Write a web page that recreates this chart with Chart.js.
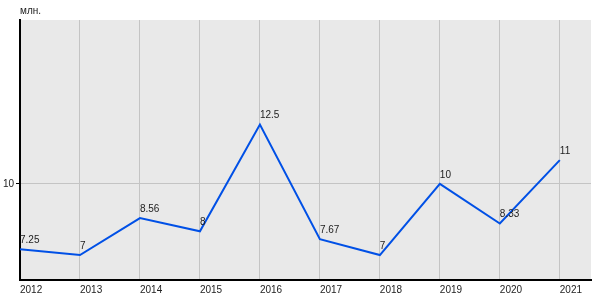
<!DOCTYPE html>
<html lang="ru">
<head>
  <meta charset="UTF-8">
  <title>млн.</title>
  <script src="https://cdn.jsdelivr.net/npm/chart.js"></script>
  <style>
    body { margin: 0; background: #fff; }
    #wrap { width: 600px; height: 300px; }
  </style>
</head>
<body>
<div id="wrap"><canvas id="chart"></canvas></div>
<script>
const years = [2012, 2013, 2014, 2015, 2016, 2017, 2018, 2019, 2020, 2021];
const values = [7.25, 7, 8.56, 8, 12.5, 7.67, 7, 10, 8.33, 11];
const labels = ['7.25', '7', '8.56', '8', '12.5', '7.67', '7', '10', '8.33', '11'];
const yTicks = [10];
const unitLabel = 'млн.';

const FONT = 'Arial, "Liberation Sans", sans-serif';

// gray plot background
const bgPlugin = {
  id: 'bg',
  beforeDraw(chart) {
    const a = chart.chartArea;
    const ctx = chart.ctx;
    ctx.save();
    ctx.fillStyle = '#e9e9e9';
    ctx.fillRect(a.left, a.top, a.right - a.left, a.bottom - a.top);
    ctx.restore();
  }
};

// value labels + unit label
const textPlugin = {
  id: 'texts',
  afterDatasetsDraw(chart) {
    const ctx = chart.ctx;
    const meta = chart.getDatasetMeta(0);
    ctx.save();
    ctx.font = '10px ' + FONT;
    ctx.fillStyle = '#222';
    ctx.textAlign = 'left';
    ctx.textBaseline = 'bottom';
    meta.data.forEach((pt, i) => {
      ctx.fillText(labels[i], pt.x, pt.y - 4);
    });
    ctx.fillText(unitLabel, chart.chartArea.left, chart.chartArea.top - 4);
    ctx.restore();
  }
};

new Chart(document.getElementById('chart'), {
  type: 'line',
  data: {
    datasets: [{
      data: years.map((y, i) => ({ x: y, y: values[i] })),
      borderColor: '#0050e6',
      borderWidth: 2,
      pointRadius: 0,
      tension: 0,
      fill: false
    }]
  },
  options: {
    responsive: true,
    maintainAspectRatio: false,
    animation: false,
    layout: { padding: { top: 20, right: 9, left: 0, bottom: 0 } },
    plugins: { legend: { display: false }, tooltip: { enabled: false } },
    scales: {
      x: {
        type: 'linear',
        min: 2012,
        max: 2021.52,
        afterBuildTicks(scale) { scale.ticks = years.map(v => ({ value: v })); },
        afterFit(scale) { scale.height = 20; },
        grid: { color: '#c4c4c4', drawTicks: false, lineWidth: 1 },
        border: { color: '#000', width: 2 },
        ticks: {
          align: 'start',
          maxRotation: 0,
          padding: 4,
          color: '#222',
          font: { family: FONT, size: 10 },
          callback: v => String(v)
        }
      },
      y: {
        min: 5.95,
        max: 16.9,
        afterBuildTicks(scale) { scale.ticks = yTicks.map(v => ({ value: v })); },
        afterFit(scale) { scale.width = 20; },
        grid: { color: '#c4c4c4', tickColor: '#000', tickLength: 4, lineWidth: 1 },
        border: { color: '#000', width: 2 },
        ticks: {
          padding: 2,
          color: '#222',
          font: { family: FONT, size: 10 }
        }
      }
    }
  },
  plugins: [bgPlugin, textPlugin]
});
</script>
</body>
</html>
